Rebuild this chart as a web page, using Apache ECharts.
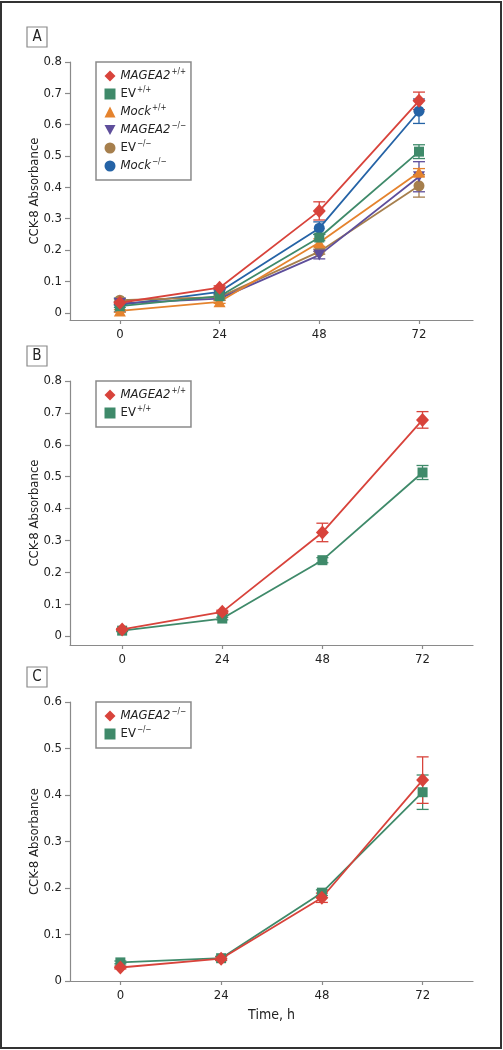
<!DOCTYPE html>
<html><head><meta charset="utf-8">
<script src="https://cdn.jsdelivr.net/npm/echarts@6/dist/echarts.min.js"></script>
<style>html,body{margin:0;padding:0;background:#fff}#c{width:503px;height:1050px}</style>
</head><body><div id="c"></div>
<script>
const times = [0, 24, 48, 72];
const yTicksAB = [0, 0.1, 0.2, 0.3, 0.4, 0.5, 0.6, 0.7, 0.8];
const yTicksC = [0, 0.1, 0.2, 0.3, 0.4, 0.5, 0.6];

// Panel A
const A_MAGEA2_pp = [0.032, 0.080, 0.325, 0.676];
const A_MAGEA2_pp_err = [0.004, 0.006, 0.029, 0.028];
const A_EV_pp = [0.021, 0.053, 0.240, 0.514];
const A_EV_pp_err = [0.004, 0.005, 0.010, 0.022];
const A_Mock_pp = [0.006, 0.035, 0.224, 0.448];
const A_Mock_pp_err = [0.004, 0.005, 0.012, 0.012];
const A_MAGEA2_mm = [0.030, 0.045, 0.184, 0.434];
const A_MAGEA2_mm_err = [0.004, 0.005, 0.012, 0.048];
const A_EV_mm = [0.040, 0.050, 0.195, 0.405];
const A_EV_mm_err = [0.004, 0.004, 0.008, 0.036];
const A_Mock_mm = [0.025, 0.067, 0.270, 0.643];
const A_Mock_mm_err = [0.022, 0.006, 0.020, 0.039];
// Panel B
const B_MAGEA2_pp = [0.021, 0.076, 0.325, 0.678];
const B_MAGEA2_pp_err = [0.003, 0.005, 0.029, 0.026];
const B_EV_pp = [0.017, 0.055, 0.238, 0.513];
const B_EV_pp_err = [0.003, 0.004, 0.008, 0.022];
// Panel C
const C_MAGEA2_mm = [0.029, 0.048, 0.179, 0.432];
const C_MAGEA2_mm_err = [0.003, 0.004, 0.010, 0.050];
const C_EV_mm = [0.040, 0.049, 0.190, 0.406];
const C_EV_mm_err = [0.003, 0.004, 0.006, 0.037];

const FONT = '"Liberation Sans Narrow", "Arial Narrow", "DejaVu Sans Condensed", sans-serif';
const RED = '#d8433b', GREEN = '#3f8a6a', ORANGE = '#e5832e', PURPLE = '#5e4e9b', BROWN = '#a67f4d', BLUE = '#2563a6';
const TRI_DOWN = 'path://M0,0 L10,0 L5,9 Z';

const labels = {
  A1: ['MAGEA2', '+/+', true], A2: ['EV', '+/+', false], A3: ['Mock', '+/+', true],
  A4: ['MAGEA2', '\u2212/\u2212', true], A5: ['EV', '\u2212/\u2212', false], A6: ['Mock', '\u2212/\u2212', true],
  B1: ['MAGEA2', '+/+', true], B2: ['EV', '+/+', false],
  C1: ['MAGEA2', '\u2212/\u2212', true], C2: ['EV', '\u2212/\u2212', false]
};

const specs = [
  {id: 'A6', g: 0, vals: A_Mock_mm, err: A_Mock_mm_err, color: BLUE, symbol: 'circle', size: 11},
  {id: 'A5', g: 0, vals: A_EV_mm, err: A_EV_mm_err, color: BROWN, symbol: 'circle', size: 11},
  {id: 'A4', g: 0, vals: A_MAGEA2_mm, err: A_MAGEA2_mm_err, color: PURPLE, symbol: TRI_DOWN, size: [12, 11]},
  {id: 'A3', g: 0, vals: A_Mock_pp, err: A_Mock_pp_err, color: ORANGE, symbol: 'triangle', size: [12, 11]},
  {id: 'A2', g: 0, vals: A_EV_pp, err: A_EV_pp_err, color: GREEN, symbol: 'rect', size: 10},
  {id: 'A1', g: 0, vals: A_MAGEA2_pp, err: A_MAGEA2_pp_err, color: RED, symbol: 'diamond', size: [13, 14]},
  {id: 'B2', g: 1, vals: B_EV_pp, err: B_EV_pp_err, color: GREEN, symbol: 'rect', size: 10},
  {id: 'B1', g: 1, vals: B_MAGEA2_pp, err: B_MAGEA2_pp_err, color: RED, symbol: 'diamond', size: [13, 14]},
  {id: 'C2', g: 2, vals: C_EV_mm, err: C_EV_mm_err, color: GREEN, symbol: 'rect', size: 10},
  {id: 'C1', g: 2, vals: C_MAGEA2_mm, err: C_MAGEA2_mm_err, color: RED, symbol: 'diamond', size: [13, 14]}
];

const series = [];
specs.forEach(s => {
  series.push({
    type: 'custom', xAxisIndex: s.g, yAxisIndex: s.g, z: 1, silent: true,
    data: times.map((t, i) => [t, s.vals[i] - s.err[i], s.vals[i] + s.err[i]]),
    renderItem: function (params, api) {
      const lo = api.coord([api.value(0), api.value(1)]);
      const hi = api.coord([api.value(0), api.value(2)]);
      const w = 6;
      const st = {stroke: s.color, lineWidth: 1.3, fill: null};
      return {type: 'group', children: [
        {type: 'line', shape: {x1: lo[0], y1: lo[1], x2: hi[0], y2: hi[1]}, style: st},
        {type: 'line', shape: {x1: lo[0] - w, y1: lo[1], x2: lo[0] + w, y2: lo[1]}, style: st},
        {type: 'line', shape: {x1: hi[0] - w, y1: hi[1], x2: hi[0] + w, y2: hi[1]}, style: st}
      ]};
    }
  });
  series.push({
    name: s.id, type: 'line', xAxisIndex: s.g, yAxisIndex: s.g, z: 2,
    data: times.map((t, i) => [t, s.vals[i]]),
    symbol: s.symbol, symbolSize: s.size, showSymbol: true,
    lineStyle: {color: s.color, width: 1.8},
    itemStyle: {color: s.color, opacity: 1},
    emphasis: {disabled: true}, animation: false
  });
});

const grids = [
  {left: 70, top: 62, width: 403, height: 258},
  {left: 70, top: 381, width: 403, height: 264},
  {left: 70, top: 702, width: 403, height: 279}
];
const xRanges = [[-12, 85], [-12.5, 84.1], [-12, 84]];
const yRanges = [[-0.023, 0.8], [-0.028, 0.8], [0, 0.6]];

const axisLineStyle = {color: '#8a8a8a', width: 1.2};
const labelStyle = {color: '#222', fontFamily: FONT, fontSize: 13};

const xAxis = grids.map((g, i) => ({
  type: 'value', gridIndex: i, min: xRanges[i][0], max: xRanges[i][1],
  axisLine: {show: true, onZero: false, lineStyle: axisLineStyle},
  axisTick: {show: true, length: 4, lineStyle: axisLineStyle, customValues: times},
  axisLabel: Object.assign({margin: 8, customValues: times}, labelStyle),
  splitLine: {show: false},
  name: i === 2 ? 'Time, h' : '', nameLocation: 'middle', nameGap: 27, nameMoveOverlap: false,
  nameTextStyle: {color: '#222', fontFamily: FONT, fontSize: 14}
}));
const yAxis = grids.map((g, i) => ({
  type: 'value', gridIndex: i, min: yRanges[i][0], max: yRanges[i][1],
  axisLine: {show: true, onZero: false, lineStyle: axisLineStyle},
  axisTick: {show: true, length: 5, lineStyle: axisLineStyle, customValues: i === 2 ? yTicksC : yTicksAB},
  axisLabel: Object.assign({margin: 8, customValues: i === 2 ? yTicksC : yTicksAB}, labelStyle),
  splitLine: {show: false},
  name: 'CCK-8 Absorbance', nameLocation: 'middle', nameRotate: 90, nameGap: 29, nameMoveOverlap: false,
  nameTextStyle: {color: '#222', fontFamily: FONT, fontSize: 13}
}));

const legendIcon = {A1: 'diamond', A2: 'rect', A3: 'triangle', A4: TRI_DOWN, A5: 'circle', A6: 'circle',
  B1: 'diamond', B2: 'rect', C1: 'diamond', C2: 'rect'};
function legendCfg(ids, top) {
  return {
    orient: 'vertical', left: 96, top: top, padding: [6, 5, 6, 8.5], itemGap: 2,
    itemWidth: 11, itemHeight: 11, borderColor: '#8a8a8a', borderWidth: 1.5,
    selectedMode: false,
    data: ids.map(id => ({name: id, icon: legendIcon[id]})),
    formatter: function (name) {
      const l = labels[name];
      return '{' + (l[2] ? 'i' : 'n') + '|' + l[0] + '}{s|' + l[1] + '}';
    },
    textStyle: {
      fontFamily: FONT, fontSize: 13, color: '#222',
      rich: {
        i: {fontFamily: FONT, fontSize: 13, fontStyle: 'italic', color: '#222', lineHeight: 14},
        n: {fontFamily: FONT, fontSize: 13, color: '#222', lineHeight: 14},
        s: {fontFamily: FONT, fontSize: 8, color: '#222', lineHeight: 6, padding: [0, 0, 8, 1]}
      }
    }
  };
}

const legend = [
  legendCfg(['A1', 'A2', 'A3', 'A4', 'A5', 'A6'], 62),
  legendCfg(['B1', 'B2'], 381),
  legendCfg(['C1', 'C2'], 702)
];

function panelBox(letter, top) {
  return [
    {type: 'rect', shape: {x: 27, y: top, width: 20, height: 20}, style: {fill: '#fff', stroke: '#8a8a8a', lineWidth: 1.2}},
    {type: 'text', x: 37, y: top + 10, style: {text: letter, fontFamily: FONT, fontSize: 15, fill: '#222', align: 'center', verticalAlign: 'middle'}}
  ];
}

const chart = echarts.init(document.getElementById('c'), null, {renderer: 'canvas'});
chart.setOption({
  animation: false,
  backgroundColor: '#fff',
  grid: grids,
  xAxis: xAxis,
  yAxis: yAxis,
  legend: legend,
  series: series,
  graphic: [
    {type: 'rect', shape: {x: 1, y: 2, width: 500, height: 1046}, style: {fill: null, stroke: '#333', lineWidth: 2}},
    ...panelBox('A', 27), ...panelBox('B', 346), ...panelBox('C', 667)
  ]
});
</script></body></html>
